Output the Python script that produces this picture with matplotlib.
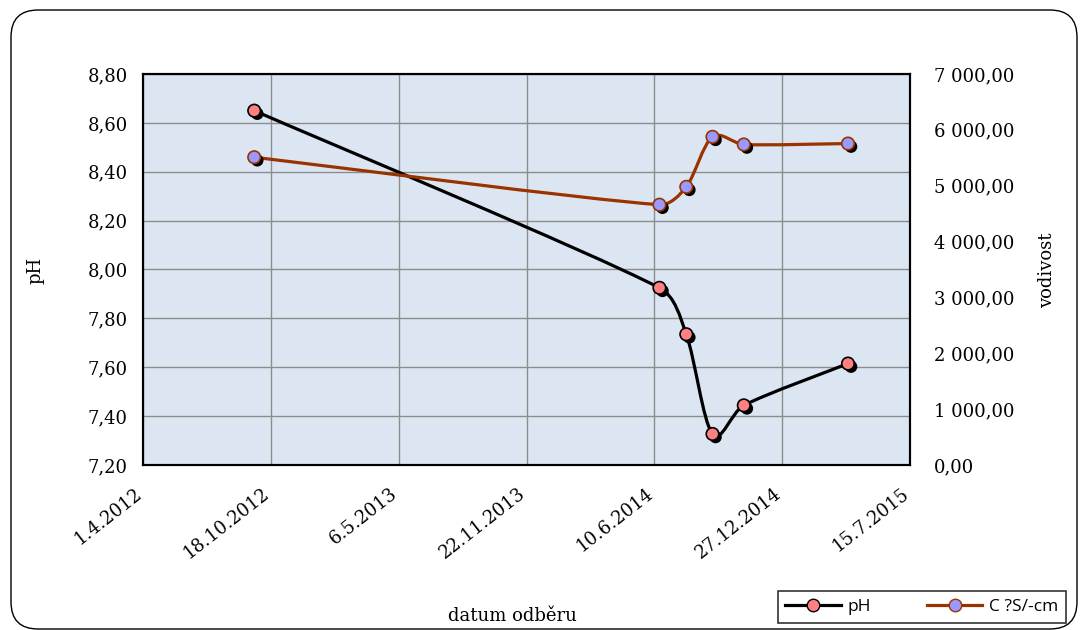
from datetime import date, timedelta

import matplotlib
matplotlib.use("Agg")
import numpy as np
import matplotlib.dates as mdates
import matplotlib.patheffects as pe
import matplotlib.transforms as mtransforms
from matplotlib import pyplot as plt
from matplotlib.lines import Line2D
from matplotlib.patches import FancyBboxPatch, PathPatch
from matplotlib.path import Path
from matplotlib.ticker import FuncFormatter, FixedLocator

# data
sample_dates = [date(2012, 9, 22), date(2014, 6, 18), date(2014, 7, 30),
                date(2014, 9, 9), date(2014, 10, 28), date(2015, 4, 9)]
ph_values = [8.65, 7.925, 7.735, 7.327, 7.444, 7.615]
conductivity = [5510, 4660, 4980, 5875, 5738, 5755]

ph_label = "pH"
cond_label = "C ?S/-cm"
x_start = date(2012, 4, 1)
x_step_days = 200
x_tick_count = 7

SERIF = ["DejaVu Serif"]
FS = 13


def smooth_path(ax, xs, ys):
    """Excel-like smoothed line, built in pixel space"""
    pts = ax.transData.transform(np.column_stack([xs, ys]))
    n = len(pts)
    verts = [pts[0]]
    codes = [Path.MOVETO]
    for i in range(n - 1):
        p0 = pts[i - 1] if i > 0 else pts[i]
        p1 = pts[i]
        p2 = pts[i + 1]
        p3 = pts[i + 2] if i + 2 < n else pts[i + 1]
        seg = np.hypot(*(p2 - p1))
        a1 = (p2 - p0) / 6
        a2 = (p3 - p1) / 6
        l1, l2 = np.hypot(*a1), np.hypot(*a2)
        if l1 > seg / 3:
            a1 = a1 * (seg / 3) / l1
        if l2 > seg / 3:
            a2 = a2 * (seg / 3) / l2
        verts += [p1 + a1, p2 - a2, p2]
        codes += [Path.CURVE4] * 3
    verts = ax.transData.inverted().transform(np.array(verts))
    return Path(verts, codes)


def draw_series(ax, xs, ys, line_color, face_color, edge_color):
    ax.add_patch(PathPatch(smooth_path(ax, xs, ys), fill=False, edgecolor=line_color,
                           lw=2.3, capstyle="round", joinstyle="round", zorder=3))
    ax.plot(xs, ys, ls="none", marker="o", ms=9, mfc=face_color, mec=edge_color, mew=1.2,
            zorder=4,
            path_effects=[pe.SimplePatchShadow(offset=(2.2, -2.2), shadow_rgbFace="black",
                                               alpha=1.0),
                          pe.Normal()])


fig = plt.figure(figsize=(10.85, 6.3), dpi=100)
fig.patch.set_facecolor("white")

frame = FancyBboxPatch((11 / 1085, 1 / 630), 1066 / 1085, 619 / 630,
                       boxstyle="round,pad=0,rounding_size=0.025",
                       transform=fig.transFigure, facecolor="none", edgecolor="black",
                       lw=1.0, mutation_aspect=1085 / 630)
fig.add_artist(frame)

ax = fig.add_axes([143 / 1085, 1 - 465 / 630, (910 - 143) / 1085, (465 - 74) / 630])
ax.set_facecolor("#DCE6F2")
ax2 = ax.twinx()
ax2.patch.set_visible(False)

x_num = mdates.date2num(sample_dates)
tick_dates = [x_start + timedelta(days=x_step_days * i) for i in range(x_tick_count)]
tick_num = mdates.date2num(tick_dates)

ax.set_xlim(tick_num[0], tick_num[-1])
ax2.set_xlim(tick_num[0], tick_num[-1])
ax.set_ylim(7.2, 8.8)
ax2.set_ylim(0, 7000)

ax.xaxis.set_major_locator(FixedLocator(tick_num))
ax.xaxis.set_major_formatter(FuncFormatter(
    lambda v, p: "{0.day}.{0.month}.{0.year}".format(mdates.num2date(v).date())))
ax.set_yticks([7.2 + 0.2 * i for i in range(9)])
ax.yaxis.set_major_formatter(FuncFormatter(lambda v, p: f"{v:.2f}".replace(".", ",")))
ax2.set_yticks([1000 * i for i in range(8)])
ax2.yaxis.set_major_formatter(FuncFormatter(
    lambda v, p: f"{v:,.2f}".replace(",", " ").replace(".", ",")))

ax.grid(True, color="#8C8C8C", lw=1.0)
ax.set_axisbelow(True)
for a in (ax, ax2):
    for s in a.spines.values():
        s.set_color("black")
        s.set_linewidth(1.5)
    a.tick_params(length=0, labelsize=FS)
    for t in a.get_xticklabels() + a.get_yticklabels():
        t.set_family(SERIF)

ax.tick_params(axis="y", pad=11)
ax2.tick_params(axis="y", pad=17)
ax.tick_params(axis="x", pad=14)
shift = mtransforms.ScaledTranslation(-9 / 100, 0, fig.dpi_scale_trans)
for t in ax.get_xticklabels():
    t.set_rotation(38)
    t.set_ha("right")
    t.set_rotation_mode("anchor")
    t.set_transform(t.get_transform() + shift)

draw_series(ax, x_num, ph_values, "black", "#FF8080", "black")
draw_series(ax2, x_num, conductivity, "#993300", "#9999FF", "#993300")

fig.text(35 / 1085, 1 - 270 / 630, "pH", rotation=90, ha="center", va="center",
         family=SERIF, fontsize=FS)
fig.text(1047 / 1085, 1 - 270 / 630, "vodivost", rotation=90, ha="center", va="center",
         family=SERIF, fontsize=FS)
fig.text(512 / 1085, 1 - 616 / 630, "datum odběru", ha="center", va="center",
         family=SERIF, fontsize=FS)

handles = [
    Line2D([], [], color="black", lw=2.3, marker="o", ms=9, mfc="#FF8080", mec="black"),
    Line2D([], [], color="#993300", lw=2.3, marker="o", ms=9, mfc="#9999FF", mec="#993300"),
]
leg = fig.legend(handles, [ph_label, cond_label], loc="center",
                 bbox_to_anchor=(922 / 1085, 1 - 607 / 630), ncol=2, frameon=True,
                 fancybox=False, edgecolor="black", handlelength=3.2, handletextpad=0.4,
                 columnspacing=3.2,
                 prop={"family": ["Open Sans", "DejaVu Sans"], "size": 12.5},
                 borderpad=0.45)
leg.get_frame().set_linewidth(1.2)

fig.savefig("out.png", dpi=100)
